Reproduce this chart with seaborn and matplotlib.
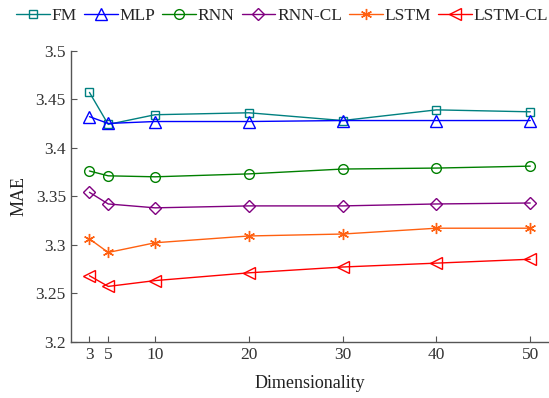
import numpy as np
import pandas as pd
import matplotlib
matplotlib.use("Agg")
import matplotlib.pyplot as plt
import seaborn as sns

# data
dims = [3, 5, 10, 20, 30, 40, 50]
fm = [3.457, 3.424, 3.434, 3.436, 3.428, 3.439, 3.437]
mlp = [3.432, 3.425, 3.427, 3.427, 3.428, 3.428, 3.428]
rnn = [3.376, 3.371, 3.370, 3.373, 3.378, 3.379, 3.381]
rnn_cl = [3.354, 3.342, 3.338, 3.340, 3.340, 3.342, 3.343]
lstm = [3.306, 3.292, 3.302, 3.309, 3.311, 3.317, 3.317]
lstm_cl = [3.268, 3.257, 3.263, 3.271, 3.277, 3.281, 3.285]
models = ['FM', 'MLP', 'RNN', 'RNN-CL', 'LSTM', 'LSTM-CL']

series = [fm, mlp, rnn, rnn_cl, lstm, lstm_cl]
colors = ['#008080', '#0000ff', '#008000', '#800080', '#ff6010', '#ff0000']
markers = ['s', '^', 'o', 'D', (6, 2, 0), '<']
msizes = [5.5, 8, 7, 6, 8, 8.5]

sns.set_style('ticks')
plt.rcParams['font.family'] = ['Liberation Serif', 'DejaVu Serif']

fig = plt.figure(figsize=(5.49, 3.98), dpi=100)
ax = fig.add_axes([70.7 / 549, 1 - 341.7 / 398, 1 - 70.7 / 549, (341.7 - 50.7) / 398])

for name, vals, c, m, ms in zip(models, series, colors, markers, msizes):
    df = pd.DataFrame({'Dimensionality': dims, 'MAE': vals})
    sns.lineplot(data=df, x='Dimensionality', y='MAE', ax=ax, color=c, marker=m,
                 markersize=ms, mfc='none', mec=c, mew=1.0, linewidth=1.0, label=name)

ax.set_xlim(1, 52)
ax.set_ylim(3.2, 3.5)
ax.set_xticks(dims)
yt = [3.2, 3.25, 3.3, 3.35, 3.4, 3.45, 3.5]
ax.set_yticks(yt)
ax.set_yticklabels(['%g' % v for v in yt])

for s in ['top', 'right']:
    ax.spines[s].set_visible(False)
for s in ['left', 'bottom']:
    ax.spines[s].set_color('#555555')
    ax.spines[s].set_linewidth(1.0)
ax.tick_params(direction='in', length=4, width=0.8, colors='#555555',
               labelcolor='#333333', labelsize=12.5)
ax.set_xlabel('Dimensionality', fontsize=13, color='#222222', labelpad=9)
ax.set_ylabel('MAE', fontsize=13, color='#222222', labelpad=6)

ax.legend(loc='center', bbox_to_anchor=(282 / 549, 1 - 15.5 / 398), bbox_transform=fig.transFigure,
          ncol=6, frameon=False, fontsize=12.5, handlelength=1.95, handletextpad=0.1,
          columnspacing=0.4, borderaxespad=0, borderpad=0)

fig.savefig('out.png', dpi=100)
